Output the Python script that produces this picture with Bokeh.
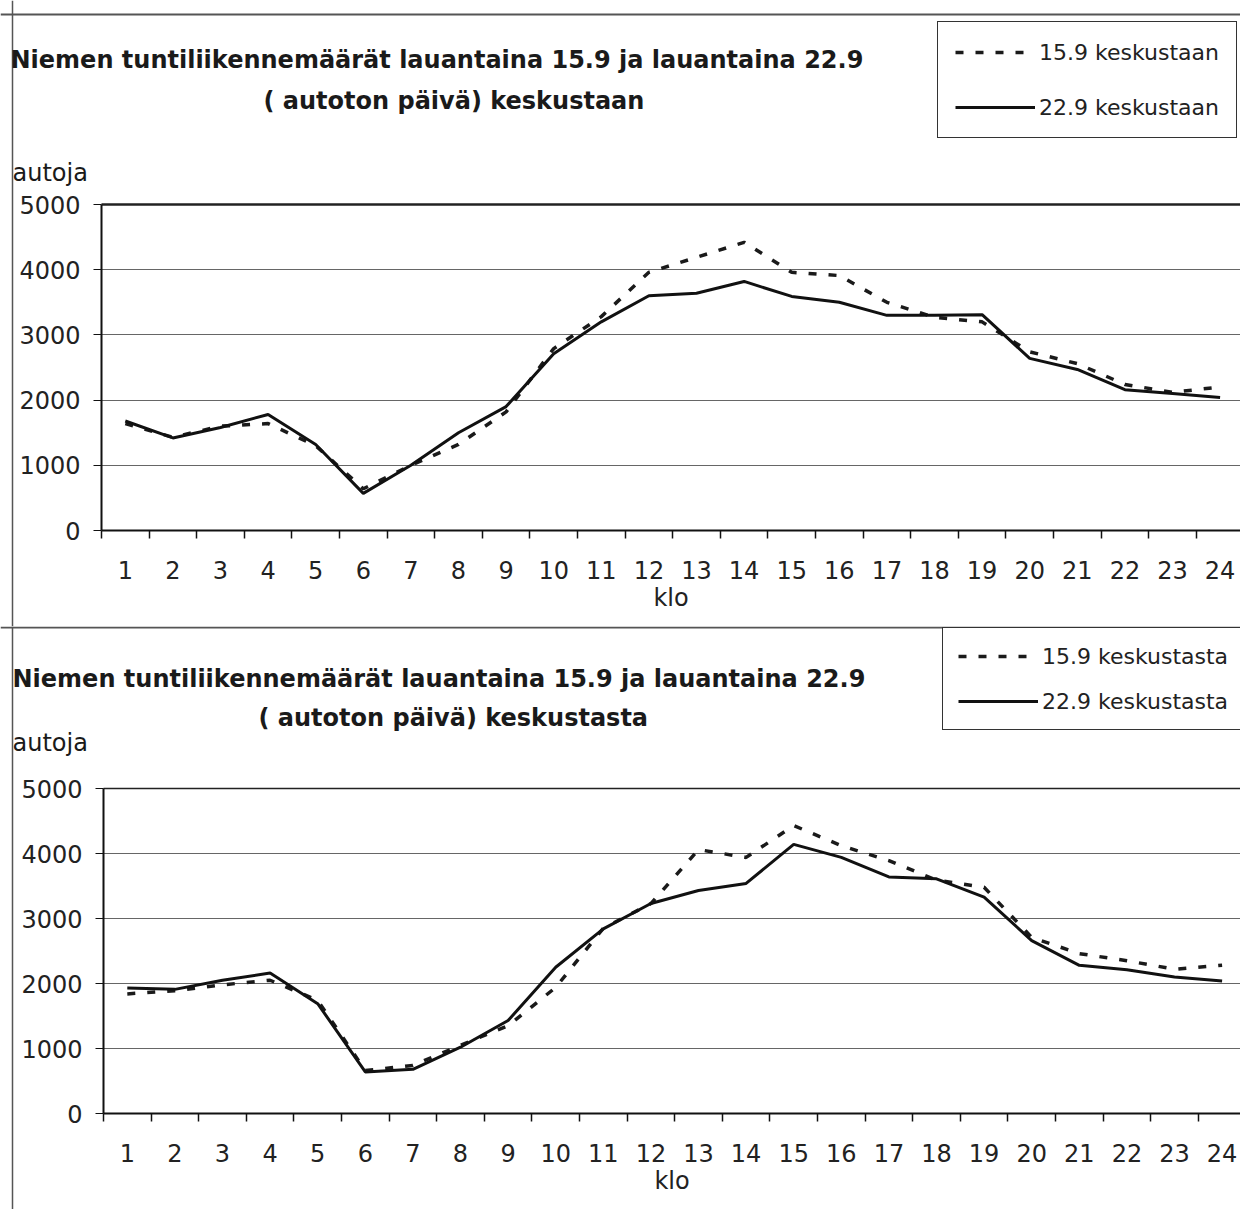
from bokeh.plotting import figure
from bokeh.models import Range1d, FixedTicker, Label, Legend, LegendItem, Span, Grid
from bokeh.layouts import column
from bokeh.embed import file_html
from bokeh.resources import INLINE

# ---- data ----
hours = list(range(1, 25))
y_ticks = [0, 1000, 2000, 3000, 4000, 5000]

title_line1 = "Niemen  tuntiliikennemäärät  lauantaina 15.9 ja lauantaina 22.9"
title_in_line2 = "( autoton päivä) keskustaan"
title_out_line2 = "( autoton päivä) keskustasta"
y_label = "autoja"
x_label = "klo"

in_names = ["15.9 keskustaan", "22.9 keskustaan"]
out_names = ["15.9 keskustasta", "22.9 keskustasta"]

# liikenne keskustaan
in_159 = [1640, 1430, 1600, 1640, 1300, 640, 1000, 1320, 1820, 2790, 3280, 3960,
          4190, 4420, 3960, 3910, 3500, 3270, 3200, 2740, 2560, 2240, 2120, 2200]
in_229 = [1680, 1420, 1580, 1780, 1320, 570, 1000, 1500, 1900, 2710, 3200, 3600,
          3640, 3820, 3590, 3500, 3300, 3300, 3310, 2640, 2470, 2160, 2100, 2040]

# liikenne keskustasta
out_159 = [1840, 1890, 1980, 2050, 1740, 660, 740, 1050, 1350, 1940, 2850, 3230,
           4060, 3940, 4430, 4120, 3890, 3590, 3480, 2710, 2460, 2350, 2220, 2280]
out_229 = [1930, 1910, 2050, 2160, 1690, 640, 680, 1020, 1430, 2250, 2840, 3230,
           3430, 3540, 4140, 3940, 3640, 3610, 3330, 2660, 2280, 2210, 2100, 2040]

FONT = "DejaVu Sans"
W = 1240
X_LO, X_HI = hours[0] - 0.5, hours[-1] + 1.0


def make_chart(line2, dashed_vals, solid_vals, names, g):
    H = g["height"]
    # ranges chosen so that the frame fills the whole canvas and the
    # chart area sits where the layout wants it (pixel geometry in g)
    unit = g["unit"]
    x_start = X_LO - g["x0"] / unit
    x_end = x_start + W / unit
    ypp = y_ticks[-1] / (g["y0"] - g["ytop"])
    y_start = -(H - g["y0"]) * ypp
    y_end = y_start + H * ypp

    p = figure(width=W, height=H, output_backend="svg", toolbar_location=None,
               x_range=Range1d(x_start, x_end), y_range=Range1d(y_start, y_end),
               min_border=0, background_fill_color="white",
               border_fill_color="white")
    p.outline_line_color = None

    # x axis
    xa = p.xaxis[0]
    xa.fixed_location = 0
    xa.bounds = (X_LO, X_HI)
    xa.ticker = FixedTicker(ticks=hours,
                            minor_ticks=[h - 0.5 for h in hours] + [hours[-1] + 0.5])
    xa.major_tick_out = 0
    xa.major_tick_in = 0
    xa.minor_tick_out = 8
    xa.minor_tick_in = 0
    xa.minor_tick_line_color = "#111"
    xa.minor_tick_line_width = 1.5
    xa.axis_line_color = "#111"
    xa.axis_line_width = 2
    xa.major_label_standoff = 22
    xa.major_label_text_font = FONT
    xa.major_label_text_font_size = "24px"
    xa.major_label_text_color = "#222"
    xa.axis_label = x_label
    xa.axis_label_text_font = FONT
    xa.axis_label_text_font_style = "normal"
    xa.axis_label_text_font_size = "24px"
    xa.axis_label_text_color = "#222"
    xa.axis_label_standoff = 2

    # y axis
    ya = p.yaxis[0]
    ya.fixed_location = X_LO
    ya.bounds = (y_ticks[0], y_ticks[-1])
    ya.ticker = FixedTicker(ticks=y_ticks)
    ya.major_tick_out = 8
    ya.major_tick_in = 0
    ya.minor_tick_line_color = None
    ya.major_tick_line_color = "#111"
    ya.axis_line_color = "#111"
    ya.axis_line_width = 2
    ya.major_label_standoff = 13
    ya.major_label_text_font = FONT
    ya.major_label_text_font_size = "24px"
    ya.major_label_text_color = "#222"

    # grid
    p.xgrid.visible = False
    yg = p.ygrid[0]
    yg.ticker = FixedTicker(ticks=y_ticks[1:-1])
    yg.cross_bounds = (X_LO, X_HI)
    yg.grid_line_color = "#666"
    yg.grid_line_width = 1.2
    p.add_layout(Grid(dimension=1, ticker=FixedTicker(ticks=[y_ticks[-1]]),
                      cross_bounds=(X_LO, X_HI), grid_line_color="#222",
                      grid_line_width=g["top_w"]))

    # page frame lines of the scanned sheet
    p.add_layout(Span(location=g["hline"], location_units="screen", dimension="width",
                      line_color="#555", line_width=2))
    p.add_layout(Span(location=12, location_units="screen", dimension="height",
                      line_color="#555", line_width=1.5))

    r_dash = p.line(hours, dashed_vals, line_color="#1a1a1a", line_width=3.5,
                    line_dash="8 12")
    r_solid = p.line(hours, solid_vals, line_color="#111", line_width=3)

    legend = Legend(items=[LegendItem(label=names[0], renderers=[r_dash]),
                           LegendItem(label=names[1], renderers=[r_solid])],
                    location=g["leg_loc"], orientation="vertical",
                    glyph_width=80, glyph_height=26, label_height=26,
                    label_standoff=4, spacing=g["leg_spacing"],
                    padding=g["leg_pad"], margin=0,
                    label_text_font=FONT, label_text_font_size="22px",
                    label_text_color="#222",
                    border_line_color="#333", border_line_width=1.5,
                    border_line_alpha=1.0,
                    background_fill_color="white", background_fill_alpha=1)
    p.add_layout(legend, "center")

    common = dict(x_units="screen", y_units="screen", text_font=FONT,
                  text_color="#1a1a1a", text_baseline="middle", text_align="left")
    p.add_layout(Label(x=g["t1"][0], y=g["t1"][1], text=title_line1,
                       text_font_size="24px", text_font_style="bold", **common))
    p.add_layout(Label(x=g["t2"][0], y=g["t2"][1], text=line2,
                       text_font_size="24px", text_font_style="bold", **common))
    p.add_layout(Label(x=g["yl"][0], y=g["yl"][1], text=y_label,
                       text_font_size="24px", **common))
    return p


# pixel geometry (x0: x of first boundary, y0 / ytop: y of 0 and 5000 from top)
g_top = dict(height=626, unit=47.6, x0=101, y0=530, ytop=204, top_w=2.5,
             hline=626 - 14,
             leg_loc=(937, 626 - 138), leg_spacing=29, leg_pad=17,
             t1=(10, 626 - 59), t2=(263, 626 - 100), yl=(12, 626 - 172))
g_bot = dict(height=583, unit=47.6, x0=103, y0=487, ytop=162, top_w=1.5,
             hline=583 - 1,
             leg_loc=(942, 583 - 104), leg_spacing=19, leg_pad=15,
             t1=(12, 583 - 52), t2=(258, 583 - 91), yl=(12, 583 - 116))

p1 = make_chart(title_in_line2, in_159, in_229, in_names, g_top)
p2 = make_chart(title_out_line2, out_159, out_229, out_names, g_bot)

layout = column(p1, p2, spacing=0)
open("out.html", "w").write(file_html(layout, INLINE))
